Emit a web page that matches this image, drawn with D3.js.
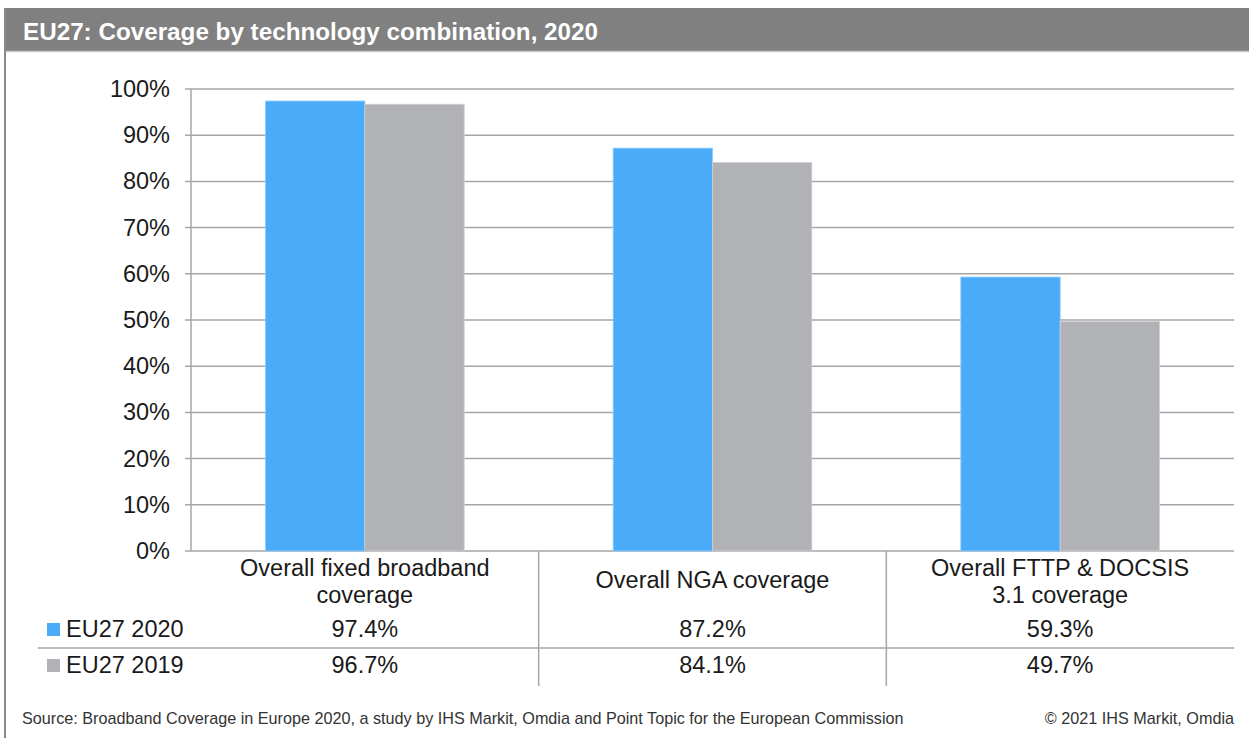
<!DOCTYPE html>
<html>
<head>
<meta charset="utf-8">
<script src="https://d3js.org/d3.v7.min.js"></script>
<style>
  body { margin: 0; background: #fff; }
  svg { display: block; font-family: "Liberation Sans", Arial, sans-serif; }
</style>
</head>
<body>
<div id="chart"></div>
<script>

const categories = [
    ["Overall fixed broadband", "coverage"],
    ["Overall NGA coverage"],
    ["Overall FTTP & DOCSIS", "3.1 coverage"]
];
const seriesNames = ["EU27 2020", "EU27 2019"];
const values2020 = [97.4, 87.2, 59.3];
const values2019 = [96.7, 84.1, 49.7];
const yTicks = [0, 10, 20, 30, 40, 50, 60, 70, 80, 90, 100];

const colors = ["#4aacf8", "#b1b2b5"];

const width = 1249, height = 738;
const fs = 23.5;
const svg = d3.select("#chart")
    .append("svg")
    .attr("width", width)
    .attr("height", height);

// title bar
svg.append("rect")
    .attr("x", 5).attr("y", 8)
    .attr("width", width - 5).attr("height", 43)
    .attr("fill", "#808080");
svg.append("line")
    .attr("x1", 5).attr("x2", width)
    .attr("y1", 51.5).attr("y2", 51.5)
    .attr("stroke", "#c8c8c8").attr("stroke-width", 1.5);
svg.append("text")
    .attr("x", 23).attr("y", 40)
    .attr("fill", "#fff")
    .attr("font-weight", "bold")
    .attr("font-size", 24)
    .attr("textLength", 575)
    .attr("lengthAdjust", "spacingAndGlyphs")
    .text("EU27: Coverage by technology combination, 2020");

// left border
svg.append("line")
    .attr("x1", 5).attr("x2", 5)
    .attr("y1", 8).attr("y2", height)
    .attr("stroke", "#8a8a8a").attr("stroke-width", 2);

const x0 = 191, x1 = 1234, yTop = 89, yBottom = 551;

const x = d3.scaleBand()
    .domain(d3.range(categories.length))
    .range([x0, x1]);

const y = d3.scaleLinear()
    .domain([0, 100])
    .range([yBottom, yTop]);

// gridlines
svg.selectAll("line.grid")
    .data(yTicks)
    .enter()
    .append("line")
    .attr("class", "grid")
    .attr("x1", x0 - 6).attr("x2", x1)
    .attr("y1", d => y(d)).attr("y2", d => y(d))
    .attr("stroke", "#a6a6a6")
    .attr("stroke-width", 1.5);

svg.selectAll("text.ytick")
    .data(yTicks)
    .enter()
    .append("text")
    .attr("class", "ytick")
    .attr("x", 170)
    .attr("y", d => y(d) + 8)
    .attr("text-anchor", "end")
    .attr("font-size", fs)
    .attr("fill", "#1a1a1a")
    .text(d => d + "%");

// bars
const x1Scale = d3.scaleBand()
    .domain([0, 1])
    .range([0, x.bandwidth()])
    .paddingOuter(0.75);

const series = [values2020, values2019];
series.forEach(function (vals, si) {
    svg.selectAll("rect.s" + si)
        .data(vals)
        .enter()
        .append("rect")
        .attr("class", "s" + si)
        .attr("x", (d, i) => x(i) + x1Scale(si))
        .attr("y", d => y(d))
        .attr("width", x1Scale.bandwidth())
        .attr("height", d => yBottom - y(d))
        .attr("fill", colors[si])
        .attr("stroke", si === 0 ? "#8fcbfa" : "#cfd0d2")
        .attr("stroke-width", 0.8);
});

// y axis line
svg.append("line")
    .attr("x1", x0).attr("x2", x0)
    .attr("y1", yTop).attr("y2", yBottom)
    .attr("stroke", "#a6a6a6").attr("stroke-width", 1.5);

// data table
const tableBottom = 686;
[1, 2].forEach(function (i) {
    svg.append("line")
        .attr("x1", x(i)).attr("x2", x(i))
        .attr("y1", yBottom).attr("y2", tableBottom)
        .attr("stroke", "#a6a6a6").attr("stroke-width", 1.5);
});
svg.append("line")
    .attr("x1", 38).attr("x2", x1)
    .attr("y1", 648).attr("y2", 648)
    .attr("stroke", "#a6a6a6").attr("stroke-width", 1.5);

categories.forEach(function (lines, i) {
    const cx = x(i) + x.bandwidth() / 2;
    const t = svg.append("text")
        .attr("text-anchor", "middle")
        .attr("font-size", fs)
        .attr("fill", "#1a1a1a");
    const startY = lines.length === 1 ? 588 : 576;
    lines.forEach(function (l, k) {
        t.append("tspan")
            .attr("x", cx)
            .attr("y", startY + k * 27)
            .text(l);
    });
});

const rowY = [637, 673];
series.forEach(function (vals, si) {
    svg.append("rect")
        .attr("x", 47).attr("y", rowY[si] - 14)
        .attr("width", 13).attr("height", 13)
        .attr("fill", colors[si]);
    svg.append("text")
        .attr("x", 66).attr("y", rowY[si])
        .attr("font-size", fs)
        .attr("fill", "#1a1a1a")
        .text(seriesNames[si]);
    svg.selectAll("text.v" + si)
        .data(vals)
        .enter()
        .append("text")
        .attr("class", "v" + si)
        .attr("x", (d, i) => x(i) + x.bandwidth() / 2)
        .attr("y", rowY[si])
        .attr("text-anchor", "middle")
        .attr("font-size", fs)
        .attr("fill", "#1a1a1a")
        .text(d => d.toFixed(1) + "%");
});

// footer
svg.append("text")
    .attr("x", 22).attr("y", 724)
    .attr("font-size", 16.2)
    .attr("fill", "#333")
    .text("Source: Broadband Coverage in Europe 2020, a study by IHS Markit, Omdia and Point Topic for the European Commission");
svg.append("text")
    .attr("x", 1234).attr("y", 724)
    .attr("text-anchor", "end")
    .attr("font-size", 16.2)
    .attr("fill", "#333")
    .text("© 2021 IHS Markit, Omdia");

</script>
</body>
</html>
